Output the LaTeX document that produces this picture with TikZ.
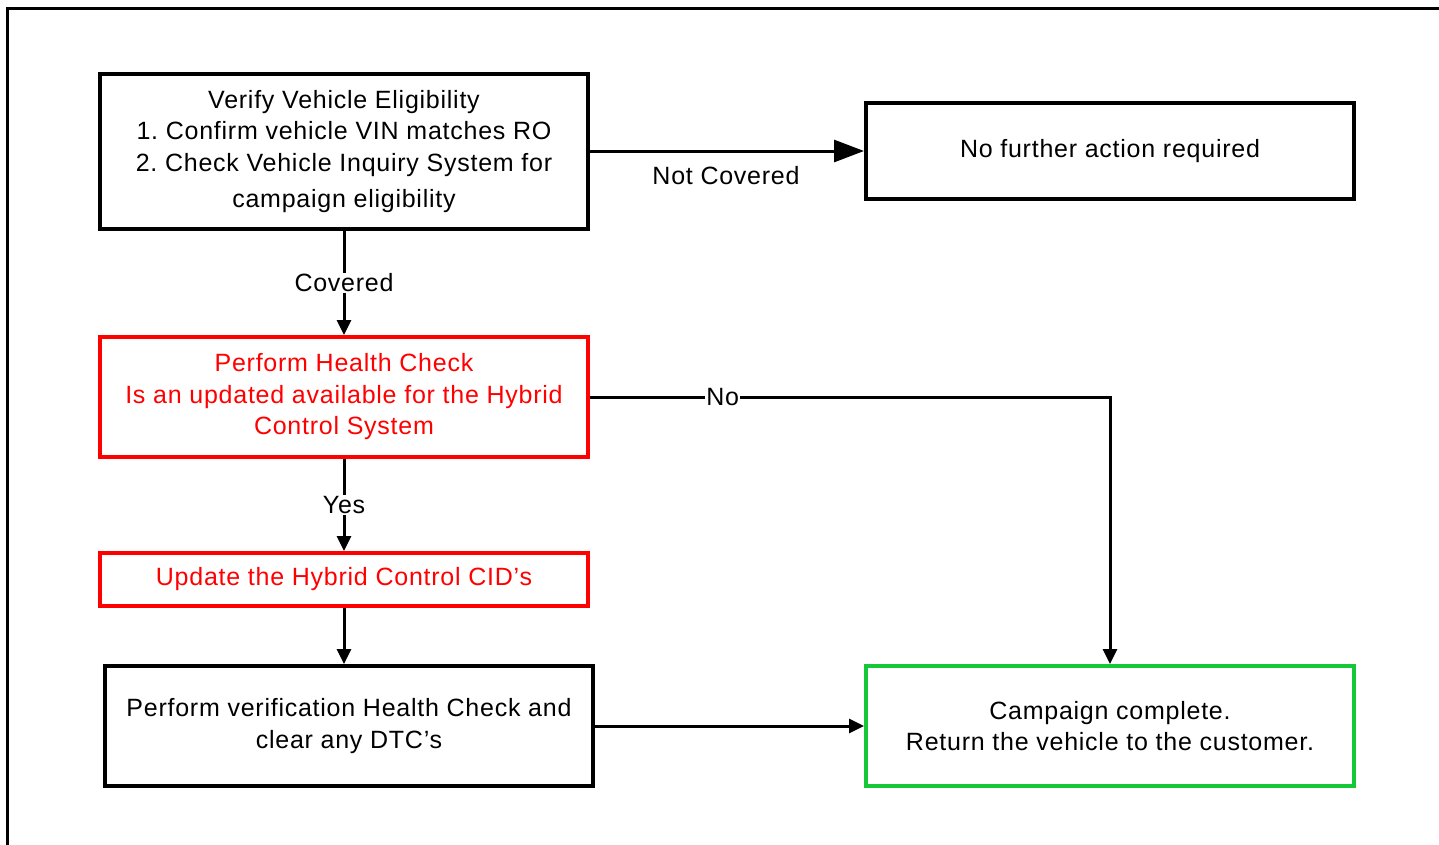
\documentclass[tikz,border=0pt]{standalone}
\usepackage{fontspec}
\setmainfont{Liberation Sans}[LetterSpace=3]
\usetikzlibrary{arrows.meta}
\definecolor{fred}{RGB}{255,0,0}
\definecolor{fgreen}{RGB}{20,200,55}
\frenchspacing
\begin{document}
\begin{tikzpicture}[x=1pt,y=-1pt,
  box/.style={draw=black,line width=4pt,minimum width=488pt,align=center,inner sep=0pt,font=\fontsize{25}{31.5}\selectfont},
  redbox/.style={box,draw=fred,text=fred},
  greenbox/.style={box,draw=fgreen},
  conn/.style={line width=3pt,-{Triangle[length=15pt,width=14pt]}},
  bigconn/.style={line width=3pt,-{Triangle[length=30pt,width=22pt]}},
  lbl/.style={fill=white,inner sep=1pt,font=\fontsize{25}{28}\selectfont}]
\useasboundingbox (0,0) rectangle (1439,844);
\fill[white] (0,0) rectangle (1439,844);
\draw[line width=3pt] (7,850) -- (7,8.5) -- (1450,8.5);
\node[box,minimum height=155pt] (verify) at (344,151.5) {Verify Vehicle Eligibility\\1. Confirm vehicle VIN matches RO\\2. Check Vehicle Inquiry System for\\[5pt]campaign eligibility};
\node[box,minimum height=96pt] (nofurther) at (1110,151) {No further action required};
\node[redbox,minimum height=120pt] (health) at (344,397) {Perform Health Check\\Is an updated available for the Hybrid\\Control System};
\node[redbox,minimum height=53pt] (update) at (344,579.5) {\raisebox{-3pt}{Update the Hybrid Control CID’s}};
\node[box,minimum height=120pt] (verif) at (349,726) {Perform verification Health Check and\\clear any DTC’s};
\node[greenbox,minimum height=120pt] (complete) at (1110,726) {Campaign complete.\\Return the vehicle to the customer.};
\draw[bigconn] (verify.east |- nofurther.west) -- (nofurther.west);
\node[lbl] at (726,176) {Not Covered};
\draw[conn] (verify.south) -- node[lbl]{Covered} (health.north);
\draw[conn] (health.east) -- node[lbl,pos=0.255]{No} (complete.north |- health.east) -- (complete.north);
\draw[conn] (health.south) -- node[lbl]{Yes} (update.north);
\draw[conn] (update.south) -- (update.south |- verif.north);
\draw[conn] (verif.east) -- (complete.west);
\end{tikzpicture}
\end{document}
